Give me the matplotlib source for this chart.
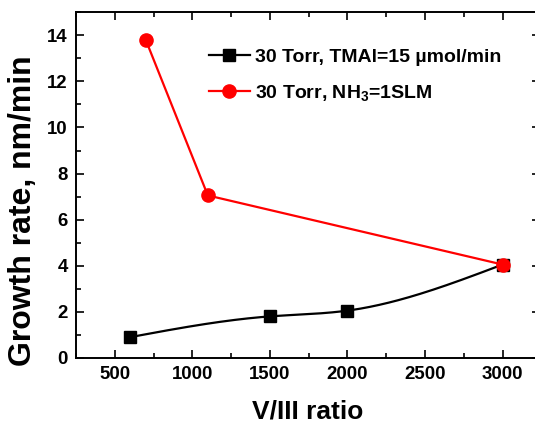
import numpy as np
import matplotlib
matplotlib.use("Agg")
import matplotlib.pyplot as plt
from matplotlib.ticker import MultipleLocator

plt.rcParams['font.family'] = ['Liberation Sans', 'DejaVu Sans']
plt.rcParams['font.weight'] = 'bold'
plt.rcParams['mathtext.fontset'] = 'custom'
plt.rcParams['mathtext.rm'] = 'Liberation Sans:bold'
plt.rcParams['mathtext.bf'] = 'Liberation Sans:bold'
plt.rcParams['mathtext.default'] = 'bf'

# Data
x_tmal = [600, 1500, 2000, 3000]
y_tmal = [0.9, 1.8, 2.05, 4.05]
x_nh3 = [700, 1100, 3000]
y_nh3 = [13.8, 7.05, 4.05]
label_tmal = '30 Torr, TMAl=15 µmol/min'
label_nh3 = r'30 Torr, NH$_3$=1SLM'
xlabel = 'V/III ratio'
ylabel = 'Growth rate, nm/min'


def natural_spline(x, y, n=200):
    x = np.asarray(x, float); y = np.asarray(y, float)
    m = len(x); h = np.diff(x)
    A = np.zeros((m, m)); b = np.zeros(m)
    A[0, 0] = 1; A[-1, -1] = 1
    for i in range(1, m - 1):
        A[i, i - 1] = h[i - 1]; A[i, i] = 2 * (h[i - 1] + h[i]); A[i, i + 1] = h[i]
        b[i] = 6 * ((y[i + 1] - y[i]) / h[i] - (y[i] - y[i - 1]) / h[i - 1])
    M = np.linalg.solve(A, b)
    xs = np.linspace(x[0], x[-1], n)
    idx = np.clip(np.searchsorted(x, xs) - 1, 0, m - 2)
    x0 = x[idx]; x1 = x[idx + 1]; hh = x1 - x0
    ys = (M[idx] * (x1 - xs) ** 3 / (6 * hh) + M[idx + 1] * (xs - x0) ** 3 / (6 * hh)
          + (y[idx] / hh - M[idx] * hh / 6) * (x1 - xs)
          + (y[idx + 1] / hh - M[idx + 1] * hh / 6) * (xs - x0))
    return xs, ys


fig = plt.figure(figsize=(5.35, 4.24), dpi=100)
ax = fig.add_axes([0.142, 0.156, 0.867, 0.815])

xs, ys = natural_spline(x_tmal, y_tmal)
ax.plot(xs, ys, color='black', lw=1.6, zorder=2)
ax.plot(x_tmal, y_tmal, 's', color='black', ms=8.5, zorder=3)
ax.plot(x_nh3, y_nh3, '-o', color='#ff0000', lw=1.6, ms=9.5, zorder=4)

# legend proxies
h1, = ax.plot([], [], '-s', color='black', lw=1.6, ms=8.5, label=label_tmal)
h2, = ax.plot([], [], '-o', color='#ff0000', lw=1.6, ms=9.5, label=label_nh3)
leg = ax.legend(handles=[h1, h2], loc='upper left', bbox_to_anchor=(0.270, 0.918),
                frameon=False, fontsize=14, handlelength=2.1, handletextpad=0.25,
                labelspacing=0.85, borderaxespad=0)
for t in leg.get_texts():
    t.set_fontweight('bold')

ax.set_xlim(250, 3240)
ax.set_ylim(0, 15)
ax.xaxis.set_major_locator(MultipleLocator(500))
ax.xaxis.set_minor_locator(MultipleLocator(250))
ax.yaxis.set_major_locator(MultipleLocator(2))
ax.yaxis.set_minor_locator(MultipleLocator(1))
ax.tick_params(which='both', direction='in', top=True, right=True, labelsize=13.4, width=1.2)
ax.tick_params(which='major', length=6, pad=6)
ax.tick_params(which='minor', length=3.5)
ax.set_xticks([500, 1000, 1500, 2000, 2500, 3000])
for lab in ax.get_xticklabels() + ax.get_yticklabels():
    lab.set_fontweight('bold')
for s in ax.spines.values():
    s.set_linewidth(1.4)

ax.set_xlabel(xlabel, fontsize=19, fontweight='bold', labelpad=12)
ax.set_ylabel(ylabel, fontsize=23, fontweight='bold')
ax.yaxis.set_label_coords(-0.082, 0.425)

fig.savefig('out.png', dpi=100)
